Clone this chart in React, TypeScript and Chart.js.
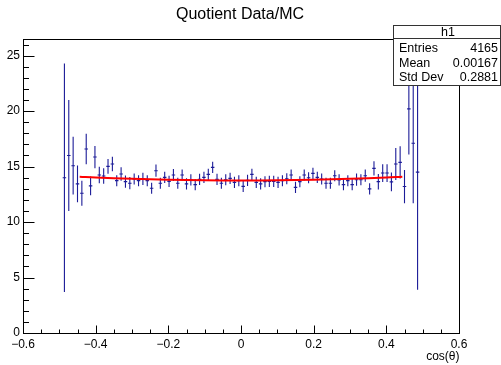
import React, { useEffect, useRef } from "react";
import { Chart, registerables } from "chart.js";
Chart.register(...registerables);

const binCenters = [
  -0.486, -0.474, -0.462, -0.45, -0.438, -0.426, -0.414, -0.402, -0.39, -0.378,
  -0.366, -0.354, -0.342, -0.33, -0.318, -0.306, -0.294, -0.282, -0.27, -0.258,
  -0.246, -0.234, -0.222, -0.21, -0.198, -0.186, -0.174, -0.162, -0.15, -0.138,
  -0.126, -0.114, -0.102, -0.09, -0.078, -0.066, -0.054, -0.042, -0.03, -0.018,
  -0.006, 0.006, 0.018, 0.03, 0.042, 0.054, 0.066, 0.078, 0.09, 0.102,
  0.114, 0.126, 0.138, 0.15, 0.162, 0.174, 0.186, 0.198, 0.21, 0.222,
  0.234, 0.246, 0.258, 0.27, 0.282, 0.294, 0.306, 0.318, 0.33, 0.342,
  0.354, 0.366, 0.378, 0.39, 0.402, 0.414, 0.426, 0.438, 0.45, 0.462,
  0.474, 0.486,
];

const ratio = [
  14.0, 16.0, 15.08, 13.44, 12.6, 16.58, 13.26, 15.86, 14.24, 14.15,
  15.02, 15.23, 13.73, 14.33, 13.64, 13.5, 13.88, 13.73, 13.9, 13.73,
  13.05, 14.63, 13.5, 14.03, 13.67, 14.24, 13.5, 14.24, 13.44, 13.8,
  13.37, 13.85, 14.03, 14.3, 14.93, 13.85, 13.5, 13.82, 13.94, 13.58,
  13.73, 13.22, 13.76, 14.3, 13.58, 13.44, 13.64, 13.67, 13.67, 13.58,
  13.73, 13.9, 14.24, 13.13, 13.64, 14.24, 14.0, 14.39, 14.03, 13.88,
  13.5, 13.5, 14.18, 13.8, 13.37, 13.73, 13.37, 13.82, 13.82, 14.18,
  12.99, 14.84, 13.64, 14.42, 14.42, 13.62, 15.23, 15.38, 13.2, 20.2,
  17.1, 14.5,
];

const ratioErr = [
  10.3, 5.0, 2.6, 1.65, 1.12, 1.38, 0.85, 1.0, 0.75, 0.7,
  0.67, 0.66, 0.5, 0.6, 0.55, 0.55, 0.5, 0.5, 0.55, 0.5,
  0.5, 0.55, 0.5, 0.5, 0.5, 0.55, 0.5, 0.5, 0.5, 0.5,
  0.5, 0.5, 0.5, 0.5, 0.5, 0.5, 0.5, 0.5, 0.5, 0.5,
  0.5, 0.5, 0.5, 0.5, 0.5, 0.5, 0.5, 0.5, 0.5, 0.5,
  0.5, 0.5, 0.5, 0.5, 0.5, 0.5, 0.5, 0.5, 0.5, 0.5,
  0.5, 0.5, 0.5, 0.5, 0.5, 0.5, 0.5, 0.55, 0.5, 0.55,
  0.5, 0.65, 0.7, 0.8, 0.8, 0.85, 1.45, 1.45, 1.5, 4.1,
  5.4, 10.6,
];

const fitX = [-0.444, -0.4, -0.3, -0.2, -0.1, 0, 0.1, 0.2, 0.3, 0.4, 0.444];
const fitY = [14.09, 14.02, 13.9, 13.82, 13.77, 13.75, 13.77, 13.82, 13.9, 14.02, 14.09];

const titleText = "Quotient Data/MC";
const xAxisTitle = "cos(\u03B8)";
const statsName = "h1";
const statsLabels = ["Entries", "Mean", "Std Dev"];
const statsValues = ["4165", "0.00167", "0.2881"];

const xMin = -0.6;
const xMax = 0.6;
const yMin = 0;
const yMax = 26.5;
const halfBin = 0.006;

const FONT = "'Liberation Sans', Arial, Helvetica, sans-serif";

export default function App() {
  const ref = useRef<HTMLCanvasElement | null>(null);
  useEffect(() => {
    const canvas = ref.current;
    if (!canvas) return;

    const errorBars = {
      id: "errorBars",
      beforeDatasetsDraw(chart: any) {
        const ctx = chart.ctx;
        const xs = chart.scales.x;
        const ys = chart.scales.y;
        ctx.save();
        ctx.strokeStyle = "#1c1c98";
        ctx.lineWidth = 1.1;
        for (let i = 0; i < binCenters.length; i++) {
          const x = xs.getPixelForValue(binCenters[i]);
          const y = ys.getPixelForValue(ratio[i]);
          const yTop = ys.getPixelForValue(ratio[i] + ratioErr[i]);
          const yBot = ys.getPixelForValue(Math.max(0, ratio[i] - ratioErr[i]));
          const xl = xs.getPixelForValue(binCenters[i] - halfBin * 0.8);
          const xr = xs.getPixelForValue(binCenters[i] + halfBin * 0.8);
          ctx.beginPath();
          ctx.moveTo(x, yTop);
          ctx.lineTo(x, yBot);
          ctx.moveTo(xl, y);
          ctx.lineTo(xr, y);
          ctx.stroke();
        }
        ctx.restore();
      },
    };

    const decorations = {
      id: "decorations",
      afterDraw(chart: any) {
        const ctx = chart.ctx;
        const a = chart.chartArea;
        const xs = chart.scales.x;
        const ys = chart.scales.y;
        ctx.save();
        ctx.strokeStyle = "#000";
        ctx.lineWidth = 1;
        const L = Math.round(a.left) + 0.5;
        const R = Math.round(a.right) + 0.5;
        const T = Math.round(a.top) + 0.5;
        const B = Math.round(a.bottom) + 0.5;
        ctx.strokeRect(L, T, R - L, B - T);
        ctx.beginPath();
        for (let k = 0; k <= 24; k++) {
          const v = xMin + k * 0.05;
          const px = Math.round(xs.getPixelForValue(v)) + 0.5;
          const len = k % 4 === 0 ? 8 : 4;
          ctx.moveTo(px, B);
          ctx.lineTo(px, B - len);
        }
        for (let k = 0; k <= 26; k++) {
          const py = Math.round(ys.getPixelForValue(k)) + 0.5;
          const len = k % 5 === 0 ? 11 : 5.5;
          ctx.moveTo(L, py);
          ctx.lineTo(L + len, py);
        }
        ctx.stroke();

        ctx.fillStyle = "#000";
        ctx.font = `16px ${FONT}`;
        ctx.textAlign = "center";
        ctx.textBaseline = "middle";
        ctx.fillText(titleText, 240, 15);

        ctx.font = `12px ${FONT}`;
        ctx.textAlign = "right";
        ctx.fillText(xAxisTitle, R, 357);

        const bx = 393.5, by = 25.5, bw = 107, bh = 60;
        ctx.fillStyle = "#fff";
        ctx.fillRect(bx, by, bw, bh);
        ctx.strokeStyle = "#333";
        ctx.strokeRect(bx, by, bw, bh);
        ctx.beginPath();
        ctx.moveTo(bx, 38.5);
        ctx.lineTo(bx + bw, 38.5);
        ctx.stroke();
        ctx.fillStyle = "#000";
        ctx.font = `12.5px ${FONT}`;
        ctx.textAlign = "center";
        ctx.fillText(statsName, 448, 32.5);
        const rows = [49, 63.5, 78];
        for (let i = 0; i < statsLabels.length; i++) {
          ctx.textAlign = "left";
          ctx.fillText(statsLabels[i], 399, rows[i]);
          ctx.textAlign = "right";
          ctx.fillText(statsValues[i], 498, rows[i]);
        }
        ctx.restore();
      },
    };

    const fmt = (v: number) => {
      const r = Math.round(v * 10) / 10;
      if (r === 0) return "0";
      const s = Math.abs(r).toFixed(1);
      return r < 0 ? "\u2212" + s : s;
    };

    const chart = new Chart(canvas, {
      type: "scatter",
      data: {
        datasets: [
          {
            label: "ratio",
            data: binCenters.map((x, i) => ({ x, y: ratio[i] })),
            pointRadius: 0,
            showLine: false,
          },
          {
            label: "fit",
            data: fitX.map((x, i) => ({ x, y: fitY[i] })),
            showLine: true,
            borderColor: "#ff0000",
            borderWidth: 2,
            pointRadius: 0,
            tension: 0.4,
          } as any,
        ],
      },
      options: {
        animation: false,
        responsive: false,
        maintainAspectRatio: false,
        layout: { padding: { left: 0, right: 42, top: 39, bottom: 0 } },
        plugins: { legend: { display: false }, tooltip: { enabled: false }, title: { display: false } },
        scales: {
          x: {
            type: "linear",
            min: xMin,
            max: xMax,
            grid: { display: false, drawTicks: false },
            border: { display: false },
            ticks: {
              stepSize: 0.2,
              padding: 4,
              color: "#000",
              font: { family: FONT, size: 12 },
              callback: (v: any) => fmt(Number(v)),
              maxRotation: 0,
              autoSkip: false,
              includeBounds: false,
            } as any,
            afterFit: (s: any) => {
              s.height = 32;
            },
          },
          y: {
            type: "linear",
            min: yMin,
            max: yMax,
            grid: { display: false, drawTicks: false },
            border: { display: false },
            ticks: {
              stepSize: 5,
              padding: 3,
              color: "#000",
              font: { family: FONT, size: 12 },
              includeBounds: false,
              autoSkip: false,
              callback: (v: any) => String(Math.round(Number(v))),
            } as any,
            afterBuildTicks: (s: any) => {
              s.ticks = s.ticks.filter((t: any) => Math.abs(t.value % 5) < 1e-6);
            },
            afterFit: (s: any) => {
              s.width = 23;
            },
          },
        },
      },
      plugins: [errorBars, decorations],
    });
    return () => chart.destroy();
  }, []);

  return (
    <div style={{ position: "absolute", left: 0, top: 0, width: 501, height: 365, background: "#fff" }}>
      <canvas ref={ref} width={501} height={365} style={{ width: 501, height: 365 }} />
    </div>
  );
}
